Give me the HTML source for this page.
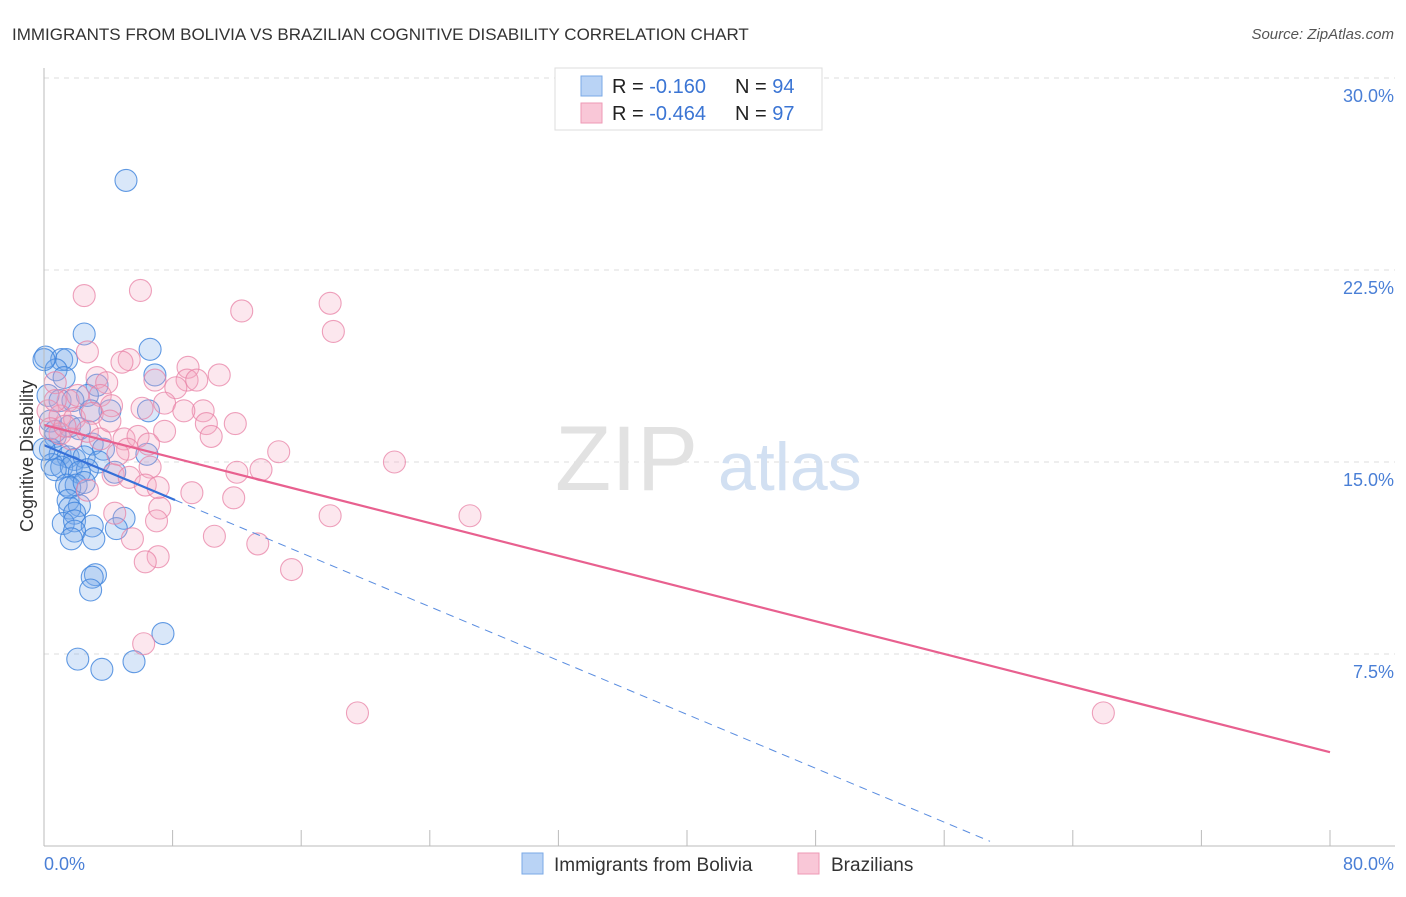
<!DOCTYPE html>
<html><head><meta charset="utf-8"><style>
body{margin:0;background:#fff;font-family:"Liberation Sans",sans-serif;}
svg text{font-family:"Liberation Sans",sans-serif;}
</style></head><body>
<svg id="chart" width="1406" height="892" xmlns="http://www.w3.org/2000/svg">
<text x="12" y="40" font-size="17" fill="#333">IMMIGRANTS FROM BOLIVIA VS BRAZILIAN COGNITIVE DISABILITY CORRELATION CHART</text>
<text x="1394" y="39" font-size="15" fill="#555" font-style="italic" text-anchor="end">Source: ZipAtlas.com</text>
<g id="grid"></g>
<text x="555" y="490" font-size="92" fill="#e2e2e2" font-family="Liberation Serif">ZIP</text>
<text x="718" y="490" font-size="68" fill="#d2e0f2">atlas</text>
<g id="pts"></g>
<g id="lines"></g>
<line x1="44" y1="68" x2="44" y2="846" stroke="#bbb"/>
<line x1="44" y1="846" x2="1395" y2="846" stroke="#bbb"/>
<text x="44" y="870" font-size="18" fill="#4a7fd6">0.0%</text>
<text x="1394" y="870" font-size="18" fill="#4a7fd6" text-anchor="end">80.0%</text>
<text transform="translate(33,456) rotate(-90)" font-size="18" fill="#333" text-anchor="middle">Cognitive Disability</text>
<g>
<rect x="555" y="68" width="267" height="62" fill="#fff" stroke="#ddd"/>
<rect x="581" y="76" width="21" height="20" fill="#b9d3f5" stroke="#7aa8e6"/>
<rect x="581" y="103" width="21" height="20" fill="#f9c7d7" stroke="#ee9ab6"/>
<text x="612" y="93" font-size="20" fill="#222">R = <tspan fill="#3b75d4"> -0.160</tspan><tspan x="735">N = </tspan><tspan fill="#3b75d4">94</tspan></text>
<text x="612" y="120" font-size="20" fill="#222">R = <tspan fill="#3b75d4">-0.464</tspan><tspan x="735">N = </tspan><tspan fill="#3b75d4">97</tspan></text>
</g>
<g>
<rect x="522" y="853" width="21" height="21" fill="#b9d3f5" stroke="#7aa8e6"/>
<text x="554" y="871" font-size="19" fill="#333">Immigrants from Bolivia</text>
<rect x="798" y="853" width="21" height="21" fill="#f9c7d7" stroke="#ee9ab6"/>
<text x="831" y="871" font-size="19" fill="#333">Brazilians</text>
</g>
</svg>
<script>
const yTicks=[30,22.5,15,7.5];
const yTickLabels=["30.0%","22.5%","15.0%","7.5%"];
const xTicks=[0,8,16,24,32,40,48,56,64,72,80];
const blueX=[5.1,2.5,6.6,0.1,1.1,1.4,0.75,1.25,6.9,3.3,0.25,1.0,2.7,1.8,4.1,6.5,2.9,0.4,1.6,2.2,0.7,3.0,3.7,6.4,0.4,1.0,1.5,1.9,2.5,3.4,0.5,1.1,1.7,2.7,0.7,2.2,4.4,1.4,2.0,1.6,2.5,1.5,2.2,1.6,1.9,1.2,1.9,4.98,3.0,4.5,1.9,1.7,3.1,3.2,3.0,2.9,7.4,2.1,5.6,3.6,0,0.7,0];
const blueY=[26.0,20.0,19.4,19.1,19.0,19.0,18.6,18.3,18.4,18.0,17.6,17.4,17.6,17.4,17.0,17.0,17.0,16.6,16.4,16.3,16.0,15.7,15.5,15.3,15.5,15.3,15.2,15.1,15.2,15.0,14.9,14.8,14.8,14.7,14.7,14.6,14.6,14.1,14.1,14.0,14.2,13.5,13.3,13.2,13.0,12.6,12.7,12.8,12.5,12.4,12.3,12.0,12.0,10.6,10.5,10.0,8.3,7.3,7.2,6.9,19.0,16.2,15.5];
const pinkX=[2.5,6.0,12.3,17.8,18.0,2.7,5.3,4.85,8.96,10.9,0.7,3.3,3.9,6.9,8.9,9.5,8.2,1.5,3.5,7.5,4.2,6.1,9.9,8.7,0.25,1.0,1.9,3.0,11.9,10.1,7.5,2.7,10.4,1.0,1.7,4.98,5.85,6.5,3.5,5.2,4.6,14.6,21.8,13.5,12.0,6.6,4.3,5.3,6.3,7.1,2.7,9.2,11.8,7.2,4.4,17.8,26.5,7.0,10.6,5.5,13.3,7.1,6.3,15.4,6.2,19.5,65.9,0.4,0.7,2.1,1.3,4.1];
const pinkY=[21.5,21.7,20.9,21.2,20.1,19.3,19.0,18.9,18.7,18.4,18.1,18.3,18.1,18.2,18.2,18.2,17.9,17.4,17.6,17.3,17.2,17.1,17.0,17.0,17.0,16.8,16.7,16.9,16.5,16.5,16.2,16.2,16.0,16.1,15.9,15.9,16.0,15.7,15.9,15.5,15.3,15.4,15.0,14.7,14.6,14.8,14.5,14.4,14.1,14.0,13.9,13.8,13.6,13.2,13.0,12.9,12.9,12.7,12.1,12.0,11.8,11.3,11.1,10.8,7.9,5.2,5.2,16.3,17.4,17.6,16.4,16.6];
const blueTrend=[15.66,-0.263];
const pinkTrend=[16.45,-0.1598];
const blueSolidEnd=8.15, blueDashEnd=58.85;
const X=v=>44+v*16.075, Y=v=>846-v*25.6;
const NS="http://www.w3.org/2000/svg";
function mk(t,a,p){const e=document.createElementNS(NS,t);for(const k in a)e.setAttribute(k,a[k]);p.appendChild(e);return e;}
const grid=document.getElementById('grid');
yTicks.forEach((v,i)=>{
 const l=mk('line',{x1:44,x2:1395,y1:Y(v),y2:Y(v),stroke:'#ddd','stroke-dasharray':'5,5'},grid);
 
 
 const t=mk('text',{x:1394,y:Y(v)+24,'font-size':18,fill:'#4a7fd6','text-anchor':'end'},grid);
 t.textContent=yTickLabels[i];
 
 
});
xTicks.forEach(v=>{
 const l=mk('line',{x1:X(v),x2:X(v),y1:830,y2:846,stroke:'#bbb'},grid);
 
 
});
const pts=document.getElementById('pts');
blueX.forEach((x,i)=>{
 const c=mk('circle',{cx:X(x),cy:Y(blueY[i]),r:11,fill:'rgba(120,170,235,0.28)',stroke:'rgba(60,130,220,0.8)','stroke-width':1.1},pts);
 
 
});
pinkX.forEach((x,i)=>{
 const c=mk('circle',{cx:X(x),cy:Y(pinkY[i]),r:11,fill:'rgba(245,170,195,0.28)',stroke:'rgba(232,130,165,0.75)','stroke-width':1.1},pts);
 
 
});
const lines=document.getElementById('lines');
const f=(t,x)=>t[0]+t[1]*x;
let l1=mk('line',{x1:X(0),y1:Y(f(pinkTrend,0)),x2:X(80),y2:Y(f(pinkTrend,80)),stroke:'#e8608f','stroke-width':2.2},lines);


let l2=mk('line',{x1:X(0),y1:Y(f(blueTrend,0)),x2:X(blueSolidEnd),y2:Y(f(blueTrend,blueSolidEnd)),stroke:'#3570d8','stroke-width':2.2},lines);


let l3=mk('line',{x1:X(blueSolidEnd),y1:Y(f(blueTrend,blueSolidEnd)),x2:X(blueDashEnd),y2:Y(f(blueTrend,blueDashEnd)),stroke:'#5a8de0','stroke-width':1,'stroke-dasharray':'8,6'},lines);


</script>
</body></html>
